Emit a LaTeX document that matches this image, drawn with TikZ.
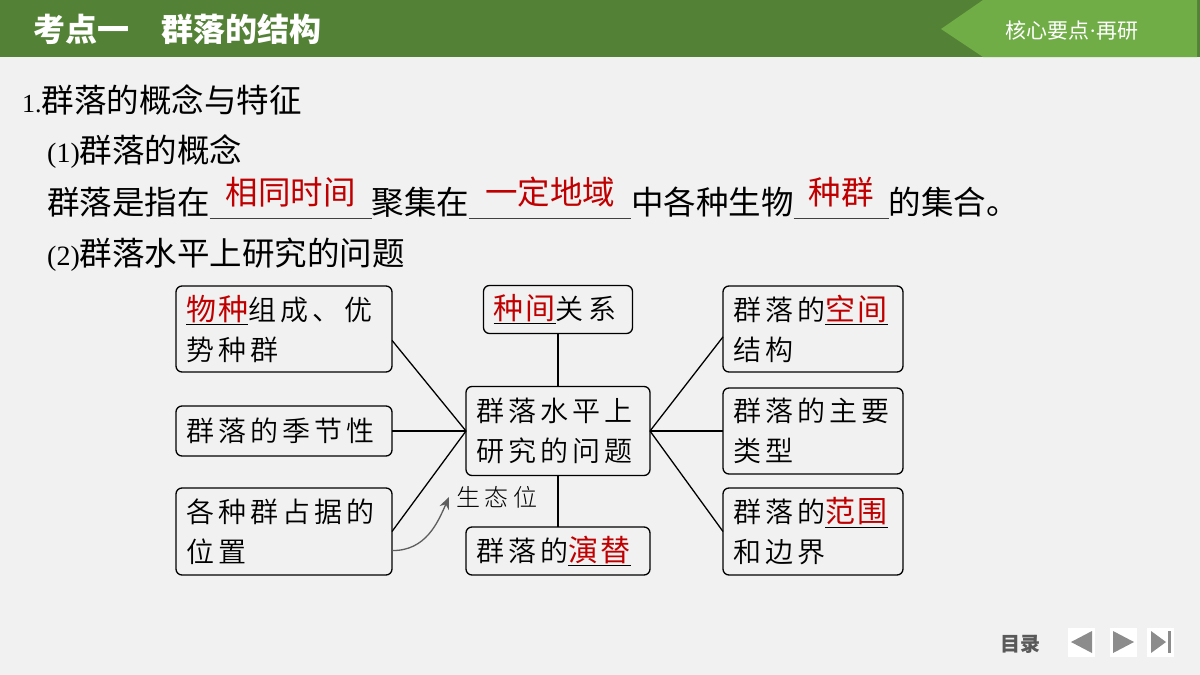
\documentclass[tikz,border=0pt]{standalone}
\usepackage{fontspec}
\usepackage{xcolor}
\setmainfont{Liberation Serif}
\newfontfamily\cjk{Noto Sans CJK SC}
\newfontfamily\cjkbox[LetterSpace=15]{Noto Sans CJK SC DemiLight}
\newfontfamily\cjkred[LetterSpace=8]{Noto Sans CJK SC}
\newfontfamily\cjkniche[LetterSpace=20]{Noto Sans CJK SC Light}
\usetikzlibrary{arrows.meta,positioning}
\definecolor{hdrdark}{HTML}{538135}
\definecolor{hdrlight}{HTML}{70AD47}
\definecolor{ansred}{HTML}{C00000}
\definecolor{pagebg}{HTML}{F1F1F1}
\definecolor{navgray}{HTML}{8C8C8C}
\definecolor{tocgray}{HTML}{595959}
\definecolor{nichegray}{HTML}{5E5E5E}
\newcommand\boxfont{\cjkbox\fontsize{28pt}{40pt}\selectfont}
\newcommand\keyw[1]{\underline{{\cjkred\fontsize{30pt}{40pt}\selectfont\color{ansred}#1}}}
\newcommand\blankw[2]{\rlap{\color{darkgray}\rule[-5pt]{#1}{0.8pt}}\makebox[#1]{\raisebox{10pt}{\color{ansred}#2}}}
\tikzset{
  txt/.style={anchor=base west, inner sep=0pt, font=\cjk\fontsize{32.5pt}{32.5pt}\selectfont},
  grp/.style={draw=black, line width=1.3pt, rounded corners=6pt, align=left, inner xsep=10pt, inner ysep=0pt, outer sep=0pt, font=\boxfont},
  gline/.style={line width=1.3pt},
  garr/.style={-{Stealth[length=12pt,width=10pt]}, line width=1.3pt, draw=nichegray}
}
\begin{document}
\begin{tikzpicture}[x=1pt,y=-1pt]
\useasboundingbox (0,0) rectangle (1200,675);
\fill[pagebg] (0,0) rectangle (1200,675);
% header bar
\fill[hdrdark] (0,0) rectangle (1200,57);
\fill[hdrlight] (941,29) -- (983,0) -- (1197,0) -- (1197,57) -- (983,57) -- cycle;
\node[anchor=base west, inner sep=0pt, text=white, font=\cjk\bfseries\fontsize{32pt}{32pt}\selectfont] (title) at (33,41) {考点一　群落的结构};
\node[anchor=base west, inner sep=0pt, text=white, font=\cjk\fontsize{21pt}{21pt}\selectfont] (tag) at (1005,38) {核心要点{\rmfamily\fontsize{22pt}{22pt}\selectfont ·}再研};
% text lines
\node[txt] (h1) at (22,112) {{\rmfamily\fontsize{26pt}{26pt}\selectfont 1.}群落的概念与特征};
\node[txt] (h2) at (47,162) {{\rmfamily\fontsize{28pt}{28pt}\selectfont (1)}群落的概念};
\node[txt] (h3) at (47,214) {群落是指在\blankw{162pt}{相同时间}聚集在\blankw{162pt}{一定地域}中各种生物\blankw{95pt}{种群}的集合。};
\node[txt] (h4) at (47,265) {{\rmfamily\fontsize{28pt}{28pt}\selectfont (2)}群落水平上研究的问题};
% diagram
\node[grp, minimum width=216pt, minimum height=86pt, text width=196pt] (a1) at (284,329) {\keyw{物种}组成、优\\势种群};
\node[grp, minimum width=216pt, minimum height=50pt, text width=196pt, below=34pt of a1] (a2) {群落的季节性};
\node[grp, minimum width=216pt, minimum height=87pt, text width=196pt, below=32pt of a2] (a3) {各种群占据的\\位置};
\node[grp, minimum width=184pt, minimum height=89pt, text width=164pt, right=74pt of a2] (c) {群落水平上\\研究的问题};
\node[grp, minimum width=149pt, minimum height=48pt, text width=129pt, above=53pt of c] (b1) {\keyw{种间}关系};
\node[grp, minimum width=184pt, minimum height=48pt, text width=164pt, below=51.5pt of c] (b2) {群落的\keyw{演替}};
\node[grp, minimum width=180pt, minimum height=86pt, text width=160pt, right=73pt of c] (d2) {群落的主要\\类型};
\node[grp, minimum width=180pt, minimum height=86pt, text width=160pt, above=16pt of d2] (d1) {群落的\keyw{空间}\\结构};
\node[grp, minimum width=180pt, minimum height=87pt, text width=160pt, below=14pt of d2] (d3) {群落的\keyw{范围}\\和边界};
\draw[gline] (a1.-6) -- (c.west);
\draw[gline] (a2.east) -- (c.west);
\draw[gline] (a3.east) -- (c.west);
\draw[gline] (b1.south) -- (c.north);
\draw[gline] (c.south) -- (b2.north);
\draw[gline] (c.east) -- (d1.185);
\draw[gline] (c.east) -- (d2.west);
\draw[gline] (c.east) -- (d3.west);
% niche note
\node[anchor=west, inner sep=0pt, font=\cjkniche\fontsize{24pt}{24pt}\selectfont] (niche) at (456,497) {生态位};
\coordinate (nt) at (449,497);
\draw[garr] (a3.-10) .. controls (426,551) and (438,522) .. (nt);
% footer
\node[inner sep=0pt, text=tocgray, font=\cjk\bfseries\fontsize{20pt}{20pt}\selectfont] (toc) at (1020,644) {目录};
\fill[white] (1068,628) rectangle (1095,657);
\fill[white] (1110,628) rectangle (1137,657);
\fill[white] (1147,628) rectangle (1174,657);
\fill[navgray] (1071,642) -- (1092,631) -- (1092,653) -- cycle;
\fill[navgray] (1134,642) -- (1113,631) -- (1113,653) -- cycle;
\fill[navgray] (1166,642) -- (1151,631) -- (1151,653) -- cycle;
\fill[navgray] (1168,631) rectangle (1171,653);
\end{tikzpicture}
\end{document}
